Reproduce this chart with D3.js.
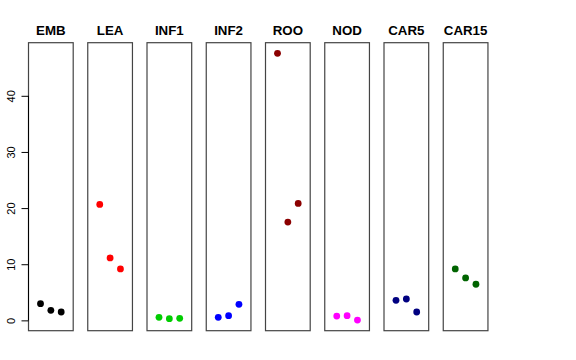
<!DOCTYPE html>
<html><head><meta charset="utf-8">
<script src="https://cdn.jsdelivr.net/npm/d3@7"></script>
<style>body{margin:0;background:#fff}svg{display:block}</style>
</head><body>
<script>
const categories = ["EMB","LEA","INF1","INF2","ROO","NOD","CAR5","CAR15"];
const colors = ["#000000","#FF0000","#00CD00","#0000FF","#8B0000","#FF00FF","#000080","#006400"];
const values = [
  [2.98, 1.79, 1.49],
  [20.65, 11.13, 9.17],
  [0.54, 0.30, 0.36],
  [0.54, 0.83, 2.86],
  [47.56, 17.5, 20.83],
  [0.77, 0.83, 0.06],
  [3.57, 3.81, 1.49],
  [9.17, 7.56, 6.43]
];
const yTicks = [0,10,20,30,40];

(function(){
const W = 576, H = 360;
const svg = d3.select("body").append("svg").attr("width", W).attr("height", H);

const plotTop = 42.7, plotBottom = 330.7;
const panelLeft0 = 28.5, panelStep = 59.25, panelW = 44.7;

const all = values.flat();
const lo = d3.min(all), hi = d3.max(all), ext = (hi - lo) * 0.04;
const y = d3.scaleLinear().domain([lo - ext, hi + ext]).range([plotBottom, plotTop]);

const band = d3.scaleBand().domain(categories).range([panelLeft0, panelLeft0 + panelStep * 8]).paddingInner(0).paddingOuter(0);

categories.forEach((c, i) => {
  const x0 = band(c);
  const x = d3.scaleLinear().domain([-0.16, 4.16]).range([x0, x0 + panelW]);
  const g = svg.append("g");
  g.append("rect").attr("x", x0).attr("y", plotTop).attr("width", panelW).attr("height", plotBottom - plotTop)
    .attr("fill", "none").attr("stroke", "#444").attr("stroke-width", 1.2);
  g.append("text").attr("x", x0 + panelW / 2).attr("y", 35).attr("text-anchor", "middle")
    .attr("font-family", "Liberation Sans, Arial, sans-serif").attr("font-weight", "bold")
    .attr("font-size", 13.3).text(c);
  g.selectAll("circle").data(values[i]).join("circle")
    .attr("cx", (d, j) => x(j + 1)).attr("cy", d => y(d)).attr("r", 3.4)
    .attr("fill", colors[i]);
});

const axis = d3.axisLeft(y).tickValues(yTicks).tickSize(7).tickSizeOuter(0).tickFormat(d3.format("d"));
const ag = svg.append("g").attr("transform", `translate(${panelLeft0},0)`).call(axis);
ag.select(".domain").attr("d", `M0,${y(0)}V${y(40)}`).attr("stroke", "#000");
ag.selectAll(".tick line").attr("stroke", "#000");
ag.selectAll(".tick text")
  .attr("font-family", "Liberation Sans, Arial, sans-serif").attr("font-size", 11).attr("fill", "#000")
  .attr("text-anchor", "middle").attr("x", null).attr("dy", null)
  .attr("transform", "translate(-17,0) rotate(-90)").attr("y", 0).attr("dy", "0.35em");
})();
</script>
</body></html>
